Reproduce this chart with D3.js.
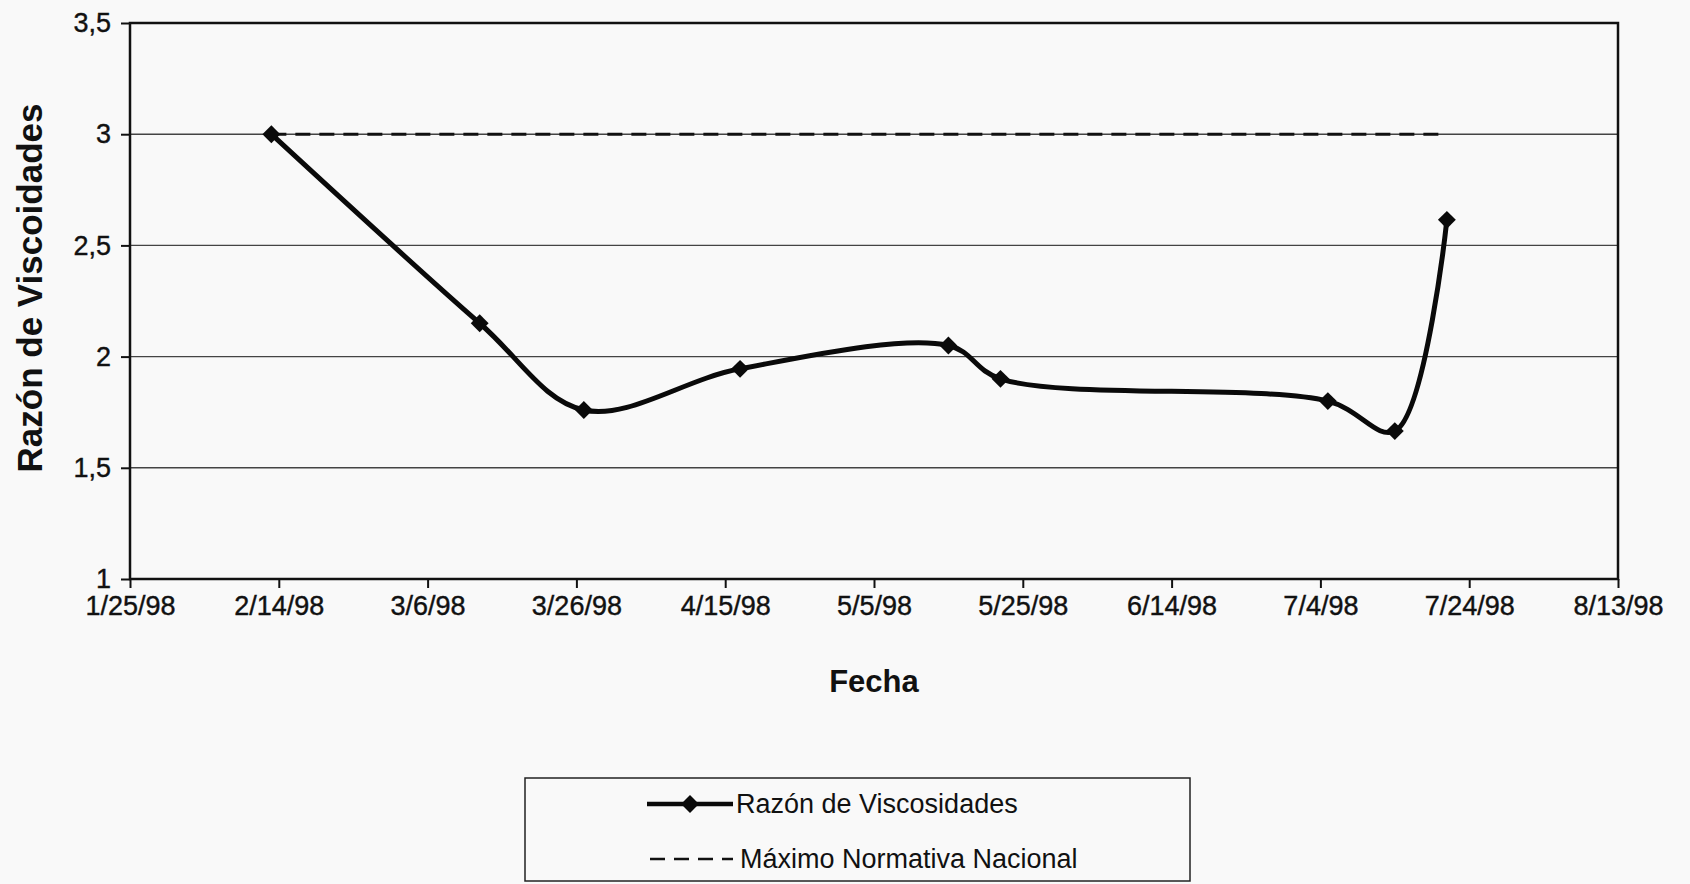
<!DOCTYPE html>
<html>
<head>
<meta charset="utf-8">
<script src="https://cdn.jsdelivr.net/npm/d3@7"></script>
<style>
  html, body { margin: 0; padding: 0; background: #f9f9f9; }
  svg { display: block; font-family: "Liberation Sans", Arial, sans-serif; }
</style>
</head>
<body>
<svg width="1690" height="884"></svg>
<script>
// fechas de muestreo y valores
var fechas = ["2/13/98", "3/13/98", "3/27/98", "4/17/98", "5/15/98", "5/22/98", "7/5/98", "7/14/98", "7/21/98"];
var razon = [3.0, 2.15, 1.76, 1.945, 2.05, 1.9, 1.80, 1.665, 2.615];
var maximo = [3, 3, 3, 3, 3, 3, 3, 3, 3];

var xTicks = ["1/25/98", "2/14/98", "3/6/98", "3/26/98", "4/15/98", "5/5/98", "5/25/98", "6/14/98", "7/4/98", "7/24/98", "8/13/98"];
var yTicks = [1, 1.5, 2, 2.5, 3, 3.5];

var parse = d3.timeParse("%m/%d/%y");

var svg = d3.select("svg"),
    margin = {top: 23, right: 72, bottom: 305, left: 130},
    width = +svg.attr("width") - margin.left - margin.right,
    height = +svg.attr("height") - margin.top - margin.bottom,
    g = svg.append("g").attr("transform", "translate(" + margin.left + "," + margin.top + ")");

var x = d3.scaleTime()
    .domain([parse(xTicks[0]), parse(xTicks[xTicks.length - 1])])
    .range([0, width]);

var y = d3.scaleLinear()
    .domain([1, 3.5])
    .range([height, 0]);

// lineas de grilla
g.append("g")
    .selectAll("line")
    .data(yTicks.slice(1, -1))
    .enter().append("line")
    .attr("x1", 0)
    .attr("x2", width)
    .attr("y1", function(d) { return y(d); })
    .attr("y2", function(d) { return y(d); })
    .attr("stroke", "#444")
    .attr("stroke-width", 1.4);

// ejes
var yAxis = g.append("g")
    .call(d3.axisLeft(y)
        .tickValues(yTicks)
        .tickSize(9)
        .tickPadding(10)
        .tickFormat(function(d) { return String(d).replace(".", ","); }));

var xAxis = g.append("g")
    .attr("transform", "translate(0," + height + ")")
    .call(d3.axisBottom(x)
        .tickValues(xTicks.map(parse))
        .tickSize(9)
        .tickPadding(8)
        .tickFormat(function(d, i) { return xTicks[i]; }));

[xAxis, yAxis].forEach(function(a) {
    a.select(".domain").remove();
    a.selectAll("line").attr("stroke", "#111").attr("stroke-width", 2);
    a.selectAll("text")
        .attr("fill", "#111")
        .attr("stroke", "#111")
        .attr("stroke-width", 0.4)
        .style("font-size", "27px");
});

// marco del area de grafico
g.append("rect")
    .attr("width", width)
    .attr("height", height)
    .attr("fill", "none")
    .attr("stroke", "#111")
    .attr("stroke-width", 2.5);

var puntos = fechas.map(function(f, i) {
    return {fecha: parse(f), razon: razon[i], maximo: maximo[i]};
});

var lineaMax = d3.line()
    .x(function(d) { return x(d.fecha); })
    .y(function(d) { return y(d.maximo); });

var lineaRazon = d3.line()
    .curve(d3.curveCatmullRom.alpha(0.5))
    .x(function(d) { return x(d.fecha); })
    .y(function(d) { return y(d.razon); });

g.append("path")
    .datum(puntos)
    .attr("d", lineaMax)
    .attr("fill", "none")
    .attr("stroke", "#111")
    .attr("stroke-width", 3)
    .attr("stroke-dasharray", "15,9");

g.append("path")
    .datum(puntos)
    .attr("d", lineaRazon)
    .attr("fill", "none")
    .attr("stroke", "#0a0a0a")
    .attr("stroke-width", 5);

var diamante = d3.symbol().type(d3.symbolSquare).size(160);

g.selectAll(".marca")
    .data(puntos)
    .enter().append("path")
    .attr("class", "marca")
    .attr("d", diamante)
    .attr("fill", "#0a0a0a")
    .attr("transform", function(d) { return "translate(" + x(d.fecha) + "," + y(d.razon) + ") rotate(45)"; });

// titulos de ejes
svg.append("text")
    .attr("x", margin.left + width / 2)
    .attr("y", 692)
    .attr("text-anchor", "middle")
    .style("font-size", "31px")
    .style("font-weight", "bold")
    .attr("fill", "#111")
    .text("Fecha");

svg.append("text")
    .attr("transform", "translate(42,288) rotate(-90)")
    .attr("text-anchor", "middle")
    .style("font-size", "35px")
    .style("font-weight", "bold")
    .attr("fill", "#111")
    .text("Razón de Viscoidades");

// leyenda
var leyenda = svg.append("g").attr("transform", "translate(525,778)");

leyenda.append("rect")
    .attr("width", 665)
    .attr("height", 103)
    .attr("fill", "none")
    .attr("stroke", "#222")
    .attr("stroke-width", 1.5);

leyenda.append("line")
    .attr("x1", 122).attr("x2", 208)
    .attr("y1", 26).attr("y2", 26)
    .attr("stroke", "#0a0a0a")
    .attr("stroke-width", 4.5);

leyenda.append("path")
    .attr("d", diamante)
    .attr("fill", "#0a0a0a")
    .attr("transform", "translate(165,26) rotate(45)");

leyenda.append("line")
    .attr("x1", 125).attr("x2", 208)
    .attr("y1", 81).attr("y2", 81)
    .attr("stroke", "#111")
    .attr("stroke-width", 2.5)
    .attr("stroke-dasharray", "15,9");

leyenda.selectAll(".etiqueta")
    .data(["Razón de Viscosidades", "Máximo Normativa Nacional"])
    .enter().append("text")
    .attr("class", "etiqueta")
    .attr("x", function(d, i) { return i === 0 ? 211 : 215; })
    .attr("y", function(d, i) { return 26 + i * 55; })
    .attr("dy", "0.35em")
    .style("font-size", "27px")
    .attr("fill", "#111")
    .text(function(d) { return d; });
</script>
</body>
</html>
